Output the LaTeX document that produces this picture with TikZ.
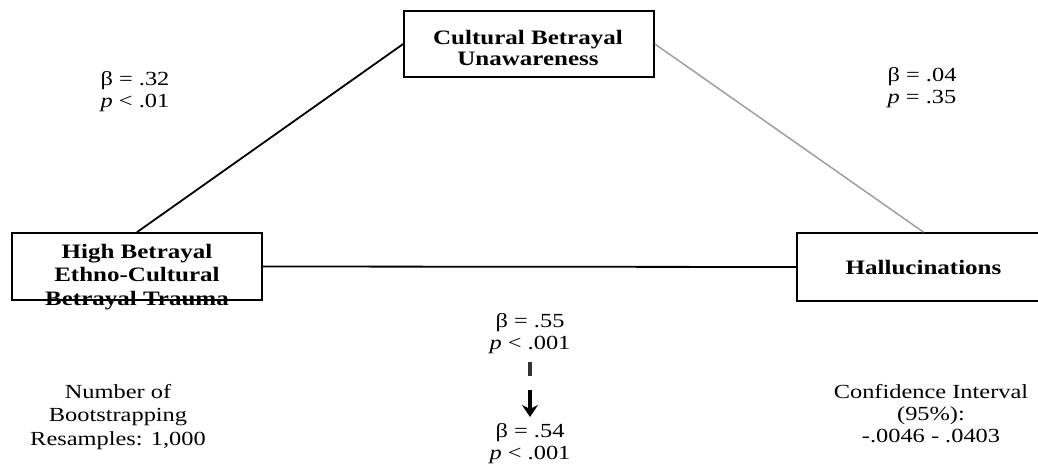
\documentclass[tikz,border=0pt]{standalone}
\usepackage{fontspec}
\setmainfont[FakeStretch=1.22]{Liberation Serif}
\usetikzlibrary{arrows.meta}
\begin{document}
\begin{tikzpicture}[x=1pt,y=-1pt,
  box/.style={draw=black,line width=1.7pt,fill=white,inner sep=0pt},
  boxtext/.style={inner sep=0pt,align=center,font=\fontsize{20.5}{23.5}\selectfont\bfseries},
  lbl/.style={inner sep=0pt,align=center,font=\fontsize{20}{22}\selectfont},
  conn/.style={line width=1.8pt,black},
  conngray/.style={line width=1.5pt,gray!75}]
\clip (0,0) rectangle (1038,470);
\fill[white] (0,0) rectangle (1038,470);
% boxes
\node[box,minimum width=250pt,minimum height=66pt] (T) at (529,44) {};
\node[boxtext,font=\fontsize{20.5}{21.5}\selectfont\bfseries] (Tt) at (528,48) {Cultural Betrayal\\Unawareness};
\node[box,minimum width=250pt,minimum height=67pt] (L) at (137,266.5) {};
\node[boxtext] (Lt) at (137,277) {High Betrayal\\Ethno-Cultural\\Betrayal Trauma};
\node[box,minimum width=253pt,minimum height=68pt] (R) at (923.5,267) {};
\node[boxtext] (Rt) at (923.5,268) {Hallucinations};
% connectors
\draw[conn] (L.north) -- (T.west);
\draw[conngray] (T.east) -- (R.north);
\draw[conn] (L.east) -- (R.west);
% path labels
\node[lbl] (a) at (135,92) {β = .32\\\textit{p} < .01};
\node[lbl] (b) at (922,88) {β = .04\\\textit{p} = .35};
\node[lbl] (c) at (530,334) {β = .55\\\textit{p} < .001};
\node[lbl] (d) at (530,444) {β = .54\\\textit{p} < .001};
% change indicator
\coordinate (barTop) at (530,362);
\coordinate (barBot) at (530,376);
\coordinate (arrTop) at (530,390);
\coordinate (arrBot) at (530,417);
\draw[line width=4pt,black!80] (barTop) -- (barBot);
\draw[line width=3.2pt,-{Stealth[length=12pt,width=16pt]}] (arrTop) -- (arrBot);
% side notes
\node[lbl,font=\fontsize{20}{23.5}\selectfont] (n1) at (118,417) {Number of\\Bootstrapping\\Resamples: 1,000};
\node[lbl,font=\fontsize{20}{22}\selectfont] (n2) at (931,414) {Confidence Interval\\(95\%):\\-.0046 - .0403};
\end{tikzpicture}
\end{document}
